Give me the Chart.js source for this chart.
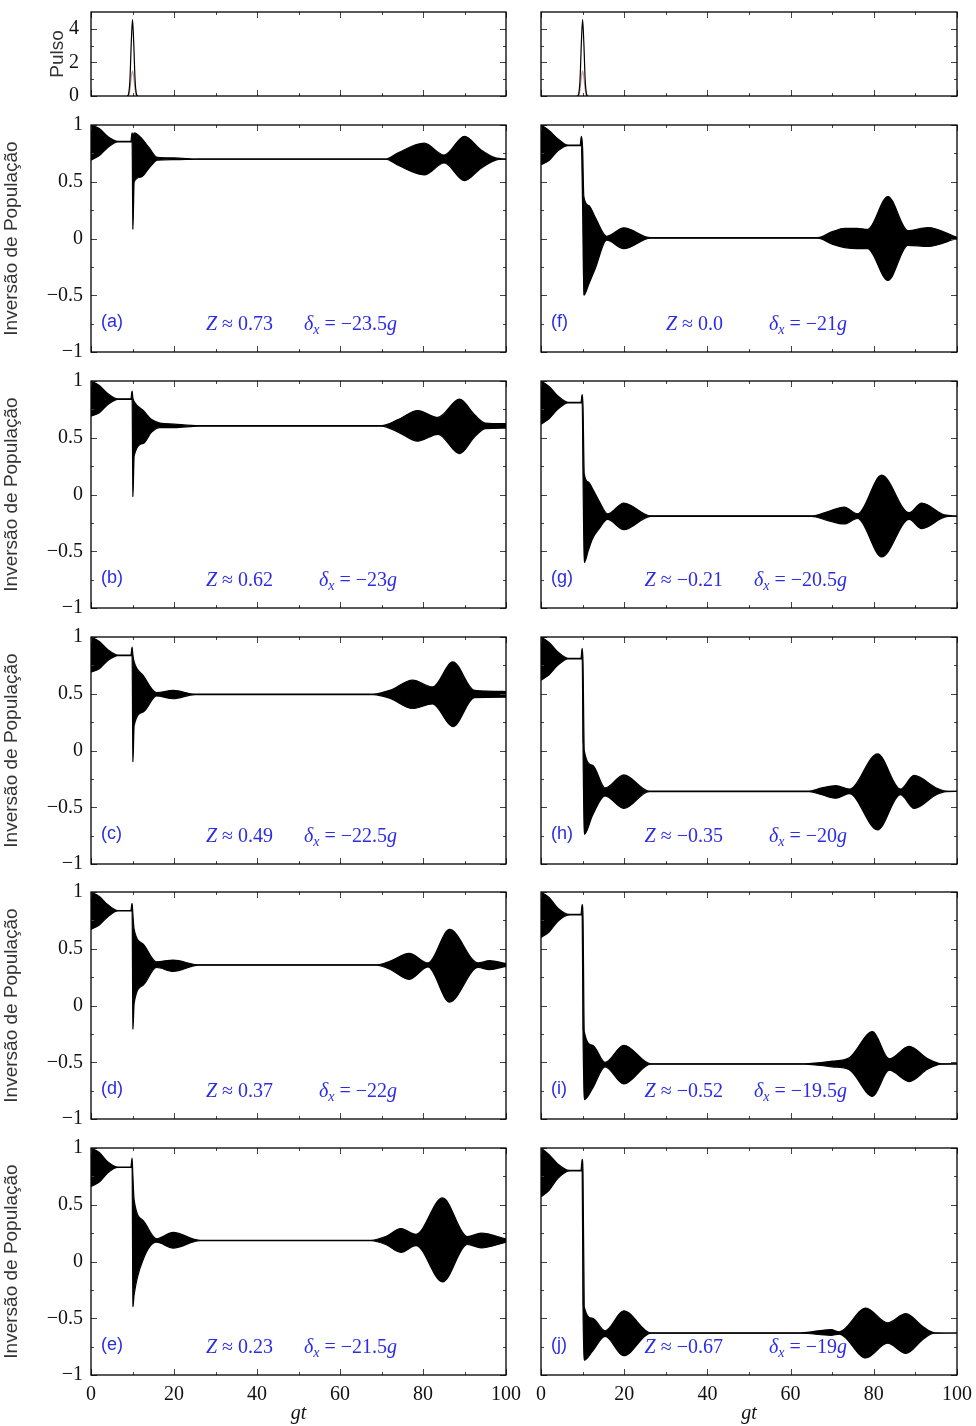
<!DOCTYPE html>
<html lang="pt">
<head>
<meta charset="UTF-8">
<title>Inversão de População</title>
<script src="https://cdn.jsdelivr.net/npm/chart.js"></script>
<style>
  body { margin: 0; background: #fff; }
  #wrap { position: relative; width: 976px; height: 1426px; overflow: hidden; }
  .box { position: absolute; }
</style>
</head>
<body>
<div id="wrap"></div>
<script>
// ---- pulse (top panels) ----
var pulseT = [8.8, 9.1, 9.4, 9.7, 10, 10.3, 10.6, 10.9, 11.2];
var pulseA = [0, 0.17, 1.05, 3.15, 4.55, 3.15, 1.05, 0.17, 0];
var pulseB = [0, 0.05, 0.4, 1.1, 1.5, 1.1, 0.4, 0.05, 0];

// ---- population inversion envelopes (upper / lower edge) ----
var tA  = [0, 2, 4, 6.5, 9.6, 9.9, 10.1, 10.4, 12, 14, 16, 20, 26, 71, 74, 80.3, 85.1, 90, 94, 97.5, 100];
var upA = [1.0, 0.97, 0.90, 0.856, 0.856, 0.93, 0.90, 0.93, 0.89, 0.80, 0.715, 0.71, 0.70, 0.70, 0.755, 0.84, 0.735, 0.90, 0.78, 0.71, 0.70];
var loA = [0.69, 0.73, 0.80, 0.852, 0.852, 0.85, 0.08, 0.50, 0.54, 0.62, 0.69, 0.695, 0.70, 0.70, 0.645, 0.56, 0.665, 0.51, 0.62, 0.69, 0.70];

var tB  = [0, 2, 4, 6.5, 9.6, 9.9, 10.1, 10.4, 12.6, 14.6, 16.6, 20, 26, 70, 74, 78.7, 83.6, 88.8, 92.5, 95, 100];
var upB = [1.0, 0.96, 0.89, 0.842, 0.842, 0.91, 0.85, 0.82, 0.74, 0.66, 0.63, 0.62, 0.607, 0.607, 0.66, 0.74, 0.68, 0.84, 0.70, 0.63, 0.625];
var loB = [0.69, 0.72, 0.79, 0.838, 0.838, 0.84, -0.02, 0.34, 0.45, 0.55, 0.59, 0.59, 0.603, 0.603, 0.55, 0.47, 0.53, 0.36, 0.51, 0.58, 0.585];

var tC  = [0, 2, 4, 6.5, 9.6, 9.9, 10.1, 10.4, 12.6, 15.8, 19.8, 25, 68, 72, 77.5, 82.3, 87.2, 92.4, 100];
var upC = [1.0, 0.96, 0.89, 0.84, 0.84, 0.91, 0.84, 0.78, 0.66, 0.51, 0.53, 0.497, 0.497, 0.53, 0.62, 0.56, 0.78, 0.53, 0.52];
var loC = [0.69, 0.72, 0.79, 0.836, 0.836, 0.835, -0.10, 0.22, 0.34, 0.48, 0.456, 0.493, 0.493, 0.46, 0.37, 0.41, 0.21, 0.465, 0.47];

var tD  = [0, 2, 4, 6.5, 9.6, 9.9, 10.1, 10.4, 12.6, 15.8, 19.8, 26, 68.7, 72, 76.7, 81.2, 86.4, 93.3, 96, 100];
var upD = [1.0, 0.96, 0.89, 0.837, 0.837, 0.90, 0.80, 0.67, 0.54, 0.385, 0.40, 0.358, 0.358, 0.39, 0.46, 0.375, 0.67, 0.375, 0.395, 0.37];
var loD = [0.67, 0.71, 0.78, 0.833, 0.833, 0.835, -0.21, 0.02, 0.18, 0.335, 0.30, 0.356, 0.356, 0.32, 0.23, 0.34, 0.03, 0.335, 0.316, 0.345];

var tE  = [0, 2, 4, 6.5, 9.6, 9.9, 10.1, 10.4, 12.6, 15.8, 19.8, 26.2, 67.5, 71, 74.7, 78.3, 84.7, 90.7, 94, 100];
var upE = [1.0, 0.96, 0.88, 0.832, 0.832, 0.91, 0.75, 0.54, 0.36, 0.20, 0.256, 0.187, 0.187, 0.22, 0.29, 0.24, 0.56, 0.22, 0.25, 0.20];
var loE = [0.66, 0.70, 0.78, 0.828, 0.828, 0.83, -0.40, -0.29, 0.02, 0.17, 0.118, 0.183, 0.183, 0.15, 0.08, 0.14, -0.18, 0.15, 0.12, 0.17];

var tF  = [0, 2, 4, 6.5, 9.4, 9.7, 10.0, 10.3, 11.5, 13, 15.8, 19.9, 26.3, 66.5, 70, 73, 76, 78.5, 83.4, 88.2, 93, 100];
var upF = [1.0, 0.95, 0.88, 0.822, 0.822, 0.90, 0.80, 0.37, 0.29, 0.19, 0.02, 0.094, 0.007, 0.007, 0.06, 0.09, 0.09, 0.08, 0.37, 0.07, 0.097, 0.01];
var loF = [0.65, 0.69, 0.77, 0.818, 0.818, 0.82, 0.28, -0.50, -0.40, -0.27, -0.015, -0.09, 0.003, 0.003, -0.05, -0.08, -0.09, -0.09, -0.37, -0.06, -0.07, 0.0];

var tG  = [0, 2, 4, 6.5, 9.6, 9.9, 10.1, 10.4, 11.4, 12.4, 14, 16, 19.9, 26.4, 65, 69, 72.9, 76.1, 81.9, 88.5, 91.5, 97, 100];
var upG = [1.0, 0.95, 0.87, 0.812, 0.812, 0.88, 0.78, 0.18, 0.11, 0.05, -0.06, -0.17, -0.075, -0.188, -0.188, -0.15, -0.11, -0.17, 0.17, -0.16, -0.075, -0.18, -0.19];
var loG = [0.62, 0.67, 0.75, 0.808, 0.808, 0.81, 0.17, -0.60, -0.49, -0.39, -0.30, -0.22, -0.31, -0.192, -0.192, -0.23, -0.26, -0.21, -0.55, -0.22, -0.30, -0.20, -0.19];

var tH  = [0, 2, 4, 6.5, 9.6, 9.9, 10.1, 10.4, 12.4, 15.4, 19.9, 26, 64.5, 67.5, 70.9, 74.1, 80.9, 86.4, 89.7, 95, 97.4, 100];
var upH = [1.0, 0.95, 0.87, 0.812, 0.812, 0.90, 0.78, 0.0, -0.13, -0.33, -0.215, -0.358, -0.358, -0.33, -0.31, -0.34, -0.03, -0.34, -0.22, -0.33, -0.358, -0.36];
var loH = [0.62, 0.67, 0.75, 0.808, 0.808, 0.81, 0.05, -0.74, -0.57, -0.40, -0.51, -0.362, -0.362, -0.39, -0.42, -0.38, -0.70, -0.39, -0.51, -0.39, -0.362, -0.36];

var tI  = [0, 2, 4, 6.8, 9.6, 9.9, 10.1, 10.4, 12.4, 15.4, 19.9, 26.4, 63.3, 70, 74.1, 79.7, 83.7, 88.5, 93, 96.2, 100];
var upI = [1.0, 0.95, 0.86, 0.802, 0.802, 0.89, 0.78, -0.23, -0.35, -0.50, -0.35, -0.513, -0.513, -0.49, -0.46, -0.23, -0.47, -0.36, -0.47, -0.513, -0.515];
var loI = [0.60, 0.65, 0.74, 0.798, 0.798, 0.80, -0.23, -0.83, -0.73, -0.54, -0.69, -0.517, -0.517, -0.54, -0.565, -0.80, -0.57, -0.67, -0.56, -0.517, -0.515];

var tJ  = [0, 2, 4, 6.8, 9.6, 9.9, 10.1, 10.4, 12.4, 15.4, 19.9, 26.4, 62.5, 69.7, 71.7, 78.1, 83.3, 87.7, 92, 94.6, 100];
var upJ = [1.0, 0.94, 0.86, 0.802, 0.802, 0.90, 0.78, -0.40, -0.50, -0.61, -0.435, -0.628, -0.628, -0.60, -0.62, -0.41, -0.54, -0.46, -0.58, -0.628, -0.63];
var loJ = [0.57, 0.63, 0.73, 0.798, 0.798, 0.80, -0.40, -0.87, -0.79, -0.66, -0.83, -0.632, -0.632, -0.65, -0.64, -0.85, -0.72, -0.81, -0.68, -0.632, -0.63];

// ---- labels and ticks ----
var panelTags   = ['(a)', '(b)', '(c)', '(d)', '(e)', '(f)', '(g)', '(h)', '(i)', '(j)'];
var zValues     = ['0.73', '0.62', '0.49', '0.37', '0.23', '0.0', '\u22120.21', '\u22120.35', '\u22120.52', '\u22120.67'];
var deltaValues = ['\u221223.5', '\u221223', '\u221222.5', '\u221222', '\u221221.5', '\u221221', '\u221220.5', '\u221220', '\u221219.5', '\u221219'];
var xMajorTicks = [0, 20, 40, 60, 80, 100];
var xMinorTicks = [10, 30, 50, 70, 90];
var popMajor    = [-1, -0.5, 0, 0.5, 1];
var popMinor    = [-0.75, -0.25, 0.25, 0.75];
var pulseMajor  = [0, 2, 4];
var pulseMinor  = [1, 3];

var panels = [
  [tA, upA, loA], [tB, upB, loB], [tC, upC, loC], [tD, upD, loD], [tE, upE, loE],
  [tF, upF, loF], [tG, upG, loG], [tH, upH, loH], [tI, upI, loI], [tJ, upJ, loJ]
];

var SERIF = '"Liberation Serif", "Times New Roman", serif';
var SANS = '"Liberation Sans", Arial, sans-serif';
var BLUE = '#2b2be8';
var wrap = document.getElementById('wrap');

function pts(t, v) { return t.map(function (x, i) { return { x: x, y: v[i] }; }); }
function fmt(v) { return v < 0 ? '\u2212' + Math.abs(v) : String(v); }

function drawParts(ctx, parts, xRight, y) {
  var w = 0;
  parts.forEach(function (p) { ctx.font = p[1]; w += ctx.measureText(p[0]).width; });
  var x = xRight - w;
  parts.forEach(function (p) {
    ctx.font = p[1];
    ctx.fillText(p[0], x, y + (p[2] || 0));
    x += ctx.measureText(p[0]).width;
  });
}

// frame, inward ticks and blue annotations
var frameTicks = {
  id: 'frameTicks',
  afterDatasetsDraw: function (chart, args, o) {
    var a = chart.chartArea, ctx = chart.ctx, sx = chart.scales.x, sy = chart.scales.y;
    ctx.save();
    ctx.strokeStyle = '#444';
    ctx.lineWidth = 1;
    ctx.beginPath();
    function xt(v, len) {
      var p = Math.round(sx.getPixelForValue(v)) + 0.5;
      ctx.moveTo(p, a.bottom); ctx.lineTo(p, a.bottom - len);
      ctx.moveTo(p, a.top); ctx.lineTo(p, a.top + len);
    }
    function yt(v, len) {
      var p = Math.round(sy.getPixelForValue(v)) + 0.5;
      ctx.moveTo(a.left, p); ctx.lineTo(a.left + len, p);
      ctx.moveTo(a.right, p); ctx.lineTo(a.right - len, p);
    }
    xMajorTicks.forEach(function (v) { xt(v, 6); });
    xMinorTicks.forEach(function (v) { xt(v, 3); });
    o.yMajor.forEach(function (v) { yt(v, 6); });
    o.yMinor.forEach(function (v) { yt(v, 3); });
    ctx.stroke();
    ctx.strokeStyle = '#000';
    ctx.lineWidth = 1.3;
    ctx.strokeRect(a.left, a.top, a.right - a.left, a.bottom - a.top);

    if (o.tag) {
      ctx.fillStyle = BLUE;
      ctx.textBaseline = 'alphabetic';
      ctx.textAlign = 'left';
      ctx.font = '18px ' + SANS;
      ctx.fillText(o.tag, a.left + 10, a.bottom - 25);
      var it = 'italic 20px ' + SERIF, rg = '20px ' + SERIF, sub = 'italic 14px ' + SERIF;
      drawParts(ctx, [['Z', it], [' \u2248 ' + o.z, rg]], a.left + 182, a.bottom - 22);
      drawParts(ctx, [['\u03b4', it], ['x', sub, 4], [' = ' + o.d, rg], ['g', it]], a.left + 306, a.bottom - 22);
    }
    ctx.restore();
  }
};

function addChart(left, top, w, h, pad, datasets, yopt, xopt, plug) {
  var div = document.createElement('div');
  div.className = 'box';
  div.style.left = left + 'px';
  div.style.top = top + 'px';
  var cv = document.createElement('canvas');
  cv.width = w; cv.height = h;
  div.appendChild(cv);
  wrap.appendChild(div);
  return new Chart(cv, {
    type: 'line',
    data: { datasets: datasets },
    options: {
      responsive: false,
      animation: false,
      layout: { padding: pad },
      plugins: { legend: { display: false }, tooltip: { enabled: false }, frameTicks: plug },
      scales: { x: xopt, y: yopt }
    },
    plugins: [frameTicks]
  });
}

function xAxis(showLabels) {
  var o = {
    type: 'linear', min: 0, max: 100, display: showLabels,
    grid: { display: false, drawTicks: false }, border: { display: false },
    afterBuildTicks: function (s) { s.ticks = xMajorTicks.map(function (v) { return { value: v }; }); },
    ticks: { padding: 8, color: '#111', font: { family: SERIF, size: 20 }, maxRotation: 0 }
  };
  if (showLabels) {
    o.afterFit = function (s) { s.height = 51; };
    o.title = { display: true, text: 'gt', color: '#111', padding: { top: 0, bottom: 0 },
                font: { family: SERIF, size: 20, style: 'italic' } };
  }
  return o;
}

function yAxis(min, max, major, showLabels, title, titlePad, tickPad) {
  var o = {
    type: 'linear', min: min, max: max, display: showLabels,
    grid: { display: false, drawTicks: false }, border: { display: false },
    afterBuildTicks: function (s) { s.ticks = major.map(function (v) { return { value: v }; }); },
    ticks: { padding: tickPad, color: '#111', font: { family: SERIF, size: 20 }, callback: fmt }
  };
  if (showLabels) {
    o.afterFit = function (s) { s.width = 91; };
    o.title = { display: true, text: title, color: '#333', padding: { top: titlePad, bottom: 0 },
                font: { family: SANS, size: 19 } };
  }
  return o;
}

var colGeo = [
  { left: 0, w: 525, padL: 0, padR: 19 },
  { left: 525, w: 451, padL: 16, padR: 19 }
];
var popTops = [125, 381, 637, 892, 1148];
var popH = 227;
// vertical room above/below each plot: half a tick label plus the tick padding
var pulsePadV = 24, popPadV = 20;
// the last "100" label plus its padding needs 23px on the right: widen the bottom canvases
var lastExtraW = 4;

// pulse panels
[0, 1].forEach(function (c) {
  var g = colGeo[c];
  addChart(g.left, 12 - pulsePadV, g.w, 84 + 2 * pulsePadV,
    { left: g.padL, right: g.padR, top: pulsePadV, bottom: pulsePadV }, [
    { data: pts(pulseT, pulseA), borderColor: '#000', borderWidth: 1.2, pointRadius: 0, fill: false, cubicInterpolationMode: 'monotone' },
    { data: pts(pulseT, pulseB), borderColor: '#c89a9a', borderWidth: 1.2, pointRadius: 0, fill: false, cubicInterpolationMode: 'monotone' }
  ], yAxis(0, 5, pulseMajor, c === 0, 'Pulso', 46, 12), xAxis(false), { yMajor: pulseMajor, yMinor: pulseMinor });
});

// population inversion panels
panels.forEach(function (p, k) {
  var c = k < 5 ? 0 : 1, r = k % 5, g = colGeo[c];
  var last = r === 4;
  var top = popTops[r] - popPadV;
  var h = last ? 1426 - top : popH + 2 * popPadV;
  var w = last ? g.w + lastExtraW : g.w;
  var padR = last ? g.padR + lastExtraW : g.padR;
  addChart(g.left, top, w, h, { left: g.padL, right: padR, top: popPadV, bottom: last ? 0 : popPadV }, [
    { data: pts(p[0], p[1]), borderColor: '#000', borderWidth: 1.2, pointRadius: 0, fill: false, cubicInterpolationMode: 'monotone' },
    { data: pts(p[0], p[2]), borderColor: '#000', borderWidth: 1.2, pointRadius: 0, fill: '-1', backgroundColor: '#000', cubicInterpolationMode: 'monotone' }
  ], yAxis(-1, 1, popMajor, c === 0, 'Inversão de População', 0, 8), xAxis(last),
  { yMajor: popMajor, yMinor: popMinor, tag: panelTags[k], z: zValues[k], d: deltaValues[k] });
});
</script>
</body>
</html>
